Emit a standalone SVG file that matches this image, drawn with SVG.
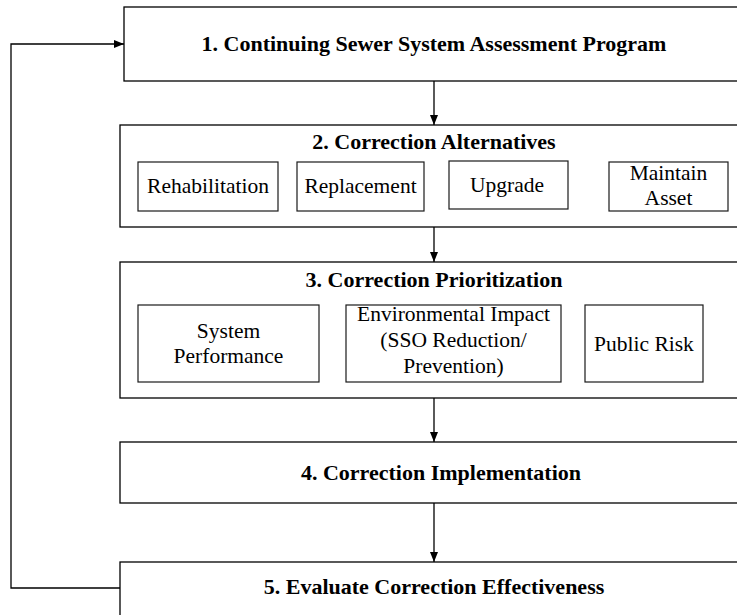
<svg xmlns="http://www.w3.org/2000/svg" width="737" height="615" viewBox="0 0 737 615">
  <style>
    .box { fill: #ffffff; stroke: #000000; stroke-width: 1.3; }
    .sub { fill: #ffffff; stroke: #1a1a1a; stroke-width: 1.2; }
    text { font-family: "Liberation Serif", "Times New Roman", serif; fill: #000000; text-anchor: middle; }
    .title { font-weight: bold; font-size: 22px; }
    .label { font-size: 21.5px; }
    .wire { fill: none; stroke: #000000; stroke-width: 1.3; }
  </style>
  <defs>
    <marker id="arrow" viewBox="0 0 10 8" refX="10" refY="4" markerWidth="10" markerHeight="8" markerUnits="userSpaceOnUse" orient="auto">
      <path d="M0,0 L10,4 L0,8 Z" fill="#000000"/>
    </marker>
  </defs>
  <rect width="737" height="615" fill="#ffffff"/>

  <!-- Step 1 -->
  <g id="step1">
    <rect class="box" x="124" y="7" width="622" height="74"/>
    <text class="title" x="434" y="51">1.  Continuing Sewer System Assessment Program</text>
  </g>

  <!-- Step 2 with its alternatives -->
  <g id="step2">
    <rect class="box" x="120" y="125" width="626" height="102"/>
    <text class="title" x="434" y="149">2.  Correction Alternatives</text>
  </g>
  <g id="rehabilitation">
    <rect class="sub" x="138" y="162" width="140" height="49"/>
    <text class="label" x="208" y="193">Rehabilitation</text>
  </g>
  <g id="replacement">
    <rect class="sub" x="297" y="162" width="127" height="49"/>
    <text class="label" x="360.5" y="193">Replacement</text>
  </g>
  <g id="upgrade">
    <rect class="sub" x="449" y="161" width="119" height="48"/>
    <text class="label" x="507" y="192">Upgrade</text>
  </g>
  <g id="maintain-asset">
    <rect class="sub" x="609" y="162" width="119" height="49"/>
    <text class="label" x="668.5" y="180">Maintain</text>
    <text class="label" x="668.5" y="205">Asset</text>
  </g>

  <!-- Step 3 with its criteria -->
  <g id="step3">
    <rect class="box" x="120" y="262" width="626" height="136"/>
    <text class="title" x="434" y="287">3.  Correction Prioritization</text>
  </g>
  <g id="system-performance">
    <rect class="sub" x="138" y="305" width="181" height="77"/>
    <text class="label" x="228.5" y="338">System</text>
    <text class="label" x="228.5" y="363">Performance</text>
  </g>
  <g id="environmental-impact">
    <rect class="sub" x="346" y="305" width="215" height="77"/>
    <text class="label" x="453.5" y="321">Environmental Impact</text>
    <text class="label" x="453.5" y="347">(SSO Reduction/</text>
    <text class="label" x="453.5" y="373">Prevention)</text>
  </g>
  <g id="public-risk">
    <rect class="sub" x="585" y="305" width="118" height="77"/>
    <text class="label" x="644" y="351">Public Risk</text>
  </g>

  <!-- Step 4 -->
  <g id="step4">
    <rect class="box" x="120" y="442" width="626" height="61"/>
    <text class="title" x="441" y="480" font-size="21">4. Correction Implementation</text>
  </g>

  <!-- Step 5 -->
  <g id="step5">
    <rect class="box" x="120" y="562" width="626" height="70"/>
    <text class="title" x="434" y="594">5.  Evaluate Correction Effectiveness</text>
  </g>

  <!-- Connectors -->
  <g id="connectors">
    <line class="wire" x1="434" y1="81" x2="434" y2="125" marker-end="url(#arrow)"/>
    <line class="wire" x1="434" y1="227" x2="434" y2="262" marker-end="url(#arrow)"/>
    <line class="wire" x1="434" y1="398" x2="434" y2="442" marker-end="url(#arrow)"/>
    <line class="wire" x1="434" y1="503" x2="434" y2="562" marker-end="url(#arrow)"/>
    <polyline class="wire" points="120,588 11,588 11,44 124,44" marker-end="url(#arrow)"/>
  </g>
</svg>
